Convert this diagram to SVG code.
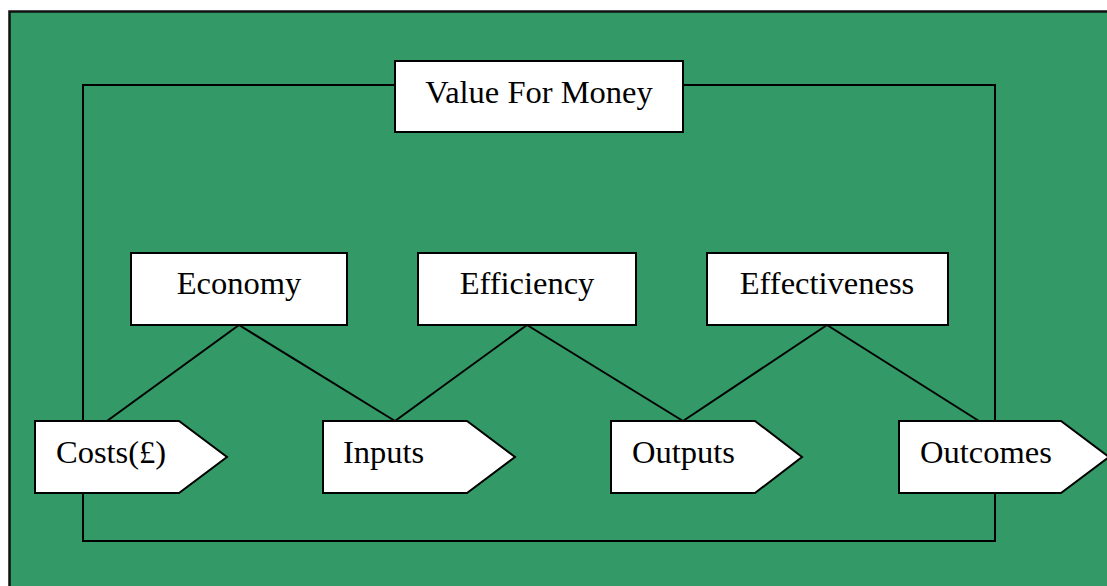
<svg xmlns="http://www.w3.org/2000/svg" width="1107" height="586" viewBox="0 0 1107 586">
<style>
.box{fill:#ffffff;stroke:#000;stroke-width:2}
.ln{fill:none;stroke:#000;stroke-width:2}
text{font-family:"Liberation Serif","Times New Roman",serif;font-size:32.5px;fill:#000}
.c{text-anchor:middle}
</style>
<rect x="0" y="0" width="1107" height="586" fill="#ffffff"/>
<rect x="9.5" y="11.5" width="1110" height="590" fill="#339966" stroke="#111" stroke-width="2.5"/>
<g id="connectors">
<path class="ln" d="M395,85 H83 V541 H995 V85 H683"/>
<line class="ln" x1="239" y1="325" x2="107" y2="421"/>
<line class="ln" x1="239" y1="325" x2="395" y2="421"/>
<line class="ln" x1="527" y1="325" x2="395" y2="421"/>
<line class="ln" x1="527" y1="325" x2="683" y2="421"/>
<line class="ln" x1="827" y1="325" x2="683" y2="421"/>
<line class="ln" x1="827" y1="325" x2="979" y2="421"/>
</g>
<g id="vfm"><rect class="box" x="395" y="61" width="288" height="71"/><text class="c" x="539" y="103">Value For Money</text></g>
<g id="economy"><rect class="box" x="131" y="253" width="216" height="72"/><text class="c" x="239" y="294">Economy</text></g>
<g id="efficiency"><rect class="box" x="418" y="253" width="218" height="72"/><text class="c" x="527" y="294">Efficiency</text></g>
<g id="effectiveness"><rect class="box" x="707" y="253" width="241" height="72"/><text class="c" x="827" y="294">Effectiveness</text></g>
<g id="costs"><polygon class="box" points="35,421 179,421 227,457 179,493 35,493"/><text x="56" y="463">Costs(£)</text></g>
<g id="inputs"><polygon class="box" points="323,421 467,421 515,457 467,493 323,493"/><text x="343" y="463">Inputs</text></g>
<g id="outputs"><polygon class="box" points="611,421 755,421 802,457 755,493 611,493"/><text x="632" y="463">Outputs</text></g>
<g id="outcomes"><polygon class="box" points="899,421 1061,421 1109,457 1061,493 899,493"/><text x="920" y="463">Outcomes</text></g>
</svg>
